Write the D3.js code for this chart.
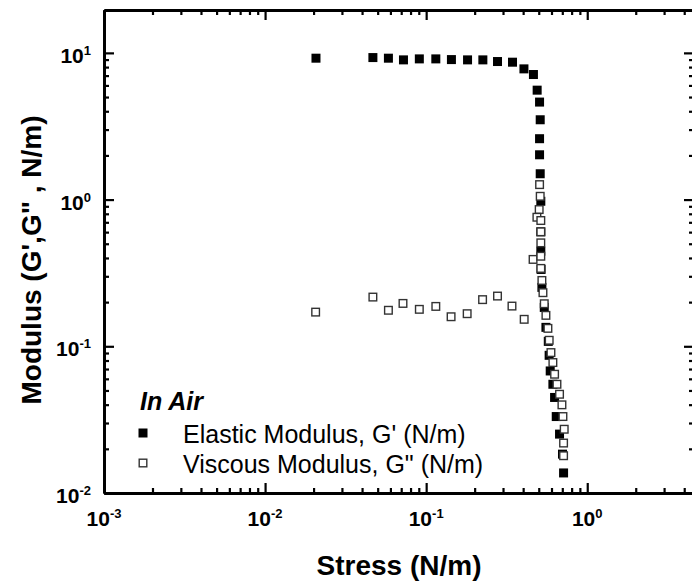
<!DOCTYPE html>
<html>
<head>
<meta charset="utf-8">
<script src="https://cdn.jsdelivr.net/npm/d3@7"></script>
<style>
  body { margin: 0; background: #fff; }
  text { font-family: "Liberation Sans", Arial, sans-serif; fill: #000; }
</style>
</head>
<body>
<div id="chart"></div>
<script>
// stress (N/m) and elastic modulus G' (N/m)
const stressElastic = [0.0207, 0.0467, 0.0583, 0.0723, 0.0907, 0.1148, 0.1435, 0.1807, 0.2249, 0.2773,
  0.3436, 0.4046, 0.4634, 0.4887, 0.5058, 0.5105, 0.5058, 0.5058, 0.5105, 0.515,
  0.515, 0.515, 0.517, 0.523, 0.541, 0.554, 0.573, 0.580, 0.589, 0.612,
  0.627, 0.642, 0.673, 0.702, 0.713]
const elastic = [9.2, 9.29, 9.2, 8.96, 9.1, 9.1, 9.0, 8.96, 8.96, 8.73,
  8.64, 7.78, 7.12, 5.57, 4.62, 3.50, 2.60, 2.02, 1.50, 0.974,
  0.603, 0.445, 0.334, 0.252, 0.184, 0.1346, 0.108, 0.0868, 0.0679, 0.0551,
  0.0448, 0.0332, 0.0252, 0.0184, 0.0137]

// stress (N/m) and viscous modulus G'' (N/m)
const stressViscous = [0.0206, 0.0467, 0.0583, 0.0718, 0.0907, 0.1148, 0.1428, 0.1797, 0.224, 0.2773,
  0.341, 0.406, 0.461, 0.506, 0.5105, 0.503, 0.487, 0.515, 0.515, 0.515,
  0.515, 0.515, 0.523, 0.531, 0.541, 0.554, 0.570, 0.5805, 0.5952, 0.612,
  0.627, 0.6486, 0.673, 0.6965, 0.7065, 0.7195, 0.713, 0.713]
const viscous = [0.171, 0.2165, 0.176, 0.196, 0.1786, 0.187, 0.159, 0.1668, 0.208, 0.22,
  0.188, 0.1527, 0.391, 1.265, 1.053, 0.855, 0.758, 0.720, 0.603, 0.507,
  0.411, 0.3395, 0.281, 0.232, 0.195, 0.1625, 0.1325, 0.1099, 0.0906, 0.0775,
  0.0645, 0.0551, 0.0471, 0.0399, 0.0332, 0.0272, 0.0219, 0.01795]

const xDomain = [1e-3, 4.6]
const yDomain = [1e-2, 19.6]
const xMajor = [1e-3, 1e-2, 1e-1, 1e0]
const xExp = ['-3', '-2', '-1', '0']
const yMajor = [1e-2, 1e-1, 1e0, 1e1]
const yExp = ['-2', '-1', '0', '1']
const legendTitle = 'In Air'
const seriesNames = ["Elastic Modulus, G' (N/m)", 'Viscous Modulus, G" (N/m)']

const width = 692
const height = 583
const margin = { top: 10, left: 104, bottom: 90 }
const plotRight = 694

const svg = d3.select('#chart')
  .append('svg')
  .attr('width', width)
  .attr('height', height)

const x = d3.scaleLog().domain(xDomain).range([margin.left, plotRight])
const y = d3.scaleLog().domain(yDomain).range([height - margin.bottom, margin.top])

const minorOf = (lo, hi, dom) => {
  const out = []
  for (let d = lo; d <= hi; d *= 10)
    for (let k = 2; k <= 9; k++) {
      const v = k * d
      if (v > dom[0] && v < dom[1]) out.push(v)
    }
  return out
}
const xMinor = minorOf(1e-3, 1, xDomain)
const yMinor = minorOf(1e-2, 10, yDomain)

const axes = svg.append('g')
const drawAxis = (axisFn, scale, transform, minor, major) => {
  const gMin = axes.append('g').attr('transform', transform)
    .call(axisFn(scale).tickValues(minor).tickSize(-5).tickSizeOuter(0).tickFormat(''))
  const gMaj = axes.append('g').attr('transform', transform)
    .call(axisFn(scale).tickValues(major).tickSize(-10).tickSizeOuter(0).tickFormat(''))
  ;[gMin, gMaj].forEach(g => {
    g.select('.domain').attr('stroke', '#000').attr('stroke-width', 2.8)
    g.selectAll('.tick line').attr('stroke', '#000').attr('stroke-width', 2.2)
  })
}
const yBottom = height - margin.bottom
drawAxis(d3.axisBottom, x, `translate(0,${yBottom})`, xMinor, xMajor)
drawAxis(d3.axisTop, x, `translate(0,${margin.top})`, xMinor, xMajor)
drawAxis(d3.axisLeft, y, `translate(${margin.left},0)`, yMinor, yMajor)
drawAxis(d3.axisRight, y, `translate(${plotRight},0)`, yMinor, yMajor)

// tick labels with superscript exponents
const xl = svg.append('g').selectAll('text')
  .data(xMajor)
  .enter()
  .append('text')
  .attr('x', d => x(d))
  .attr('y', 526)
  .attr('text-anchor', 'middle')
  .attr('font-size', 21)
  .attr('font-weight', 'bold')
xl.append('tspan').text('10')
xl.append('tspan').attr('dy', -8).attr('font-size', 13).text((_, i) => xExp[i])

const yl = svg.append('g').selectAll('text')
  .data(yMajor)
  .enter()
  .append('text')
  .attr('x', 91)
  .attr('y', d => y(d) + 10)
  .attr('text-anchor', 'end')
  .attr('font-size', 21)
  .attr('font-weight', 'bold')
yl.append('tspan').text('10')
yl.append('tspan').attr('dy', -8).attr('font-size', 13).text((_, i) => yExp[i])

svg.append('text')
  .attr('x', (margin.left + plotRight) / 2)
  .attr('y', 575)
  .attr('text-anchor', 'middle')
  .attr('font-size', 28)
  .attr('font-weight', 'bold')
  .text('Stress (N/m)')

svg.append('text')
  .attr('transform', `translate(41,260) rotate(-90)`)
  .attr('text-anchor', 'middle')
  .attr('font-size', 28)
  .attr('font-weight', 'bold')
  .text("Modulus (G',G\" , N/m)")

// data points
const plot = svg.append('g')
plot.selectAll('rect.gp')
  .data(elastic)
  .enter()
  .append('rect')
  .attr('class', 'gp')
  .attr('x', (_, i) => x(stressElastic[i]) - 4.5)
  .attr('y', d => y(d) - 4.5)
  .attr('width', 9)
  .attr('height', 9)
  .attr('fill', '#000')

plot.selectAll('rect.gpp')
  .data(viscous)
  .enter()
  .append('rect')
  .attr('class', 'gpp')
  .attr('x', (_, i) => x(stressViscous[i]) - 3.8)
  .attr('y', d => y(d) - 3.8)
  .attr('width', 7.6)
  .attr('height', 7.6)
  .attr('fill', '#fff')
  .attr('stroke', '#333')
  .attr('stroke-width', 1.4)

// legend
const legend = svg.append('g')
legend.append('text')
  .attr('x', 140)
  .attr('y', 410)
  .attr('font-size', 25)
  .attr('font-weight', 'bold')
  .attr('font-style', 'italic')
  .text(legendTitle)

const rows = legend.selectAll('g.row')
  .data(seriesNames)
  .enter()
  .append('g')
  .attr('class', 'row')
  .attr('transform', (_, i) => `translate(0,${433 + i * 30})`)
rows.append('rect')
  .attr('x', (_, i) => i === 0 ? 138.5 : 139.2)
  .attr('y', (_, i) => i === 0 ? -4.5 : -3.8)
  .attr('width', (_, i) => i === 0 ? 9 : 7.6)
  .attr('height', (_, i) => i === 0 ? 9 : 7.6)
  .attr('fill', (_, i) => i === 0 ? '#000' : '#fff')
  .attr('stroke', (_, i) => i === 0 ? 'none' : '#333')
  .attr('stroke-width', 1.4)
rows.append('text')
  .attr('x', 183)
  .attr('y', 10)
  .attr('font-size', 25)
  .text(d => d)
</script>
</body>
</html>
